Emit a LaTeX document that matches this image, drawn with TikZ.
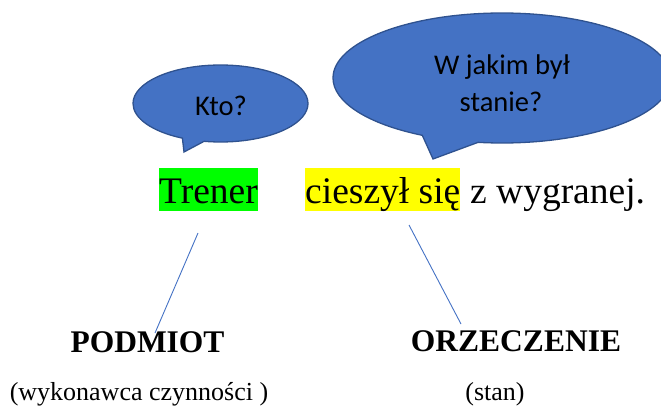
\documentclass[tikz,border=0pt]{standalone}
\usepackage{fontspec}
\setmainfont{Liberation Serif}
\newfontfamily\calibri{Carlito}
\usetikzlibrary{shapes.callouts}
\definecolor{bubblefill}{HTML}{4472C4}
\definecolor{bubbleline}{HTML}{2F528F}
\definecolor{hlgreen}{HTML}{00FF00}
\definecolor{hlyellow}{HTML}{FFFF00}
\begin{document}
\begin{tikzpicture}[x=1pt,y=-1pt,
  bubble/.style={ellipse callout, fill=bubblefill, draw=bubbleline, line width=1.3pt, inner sep=0pt},
  btext/.style={font=\calibri\fontsize{28.5}{34}\selectfont, inner sep=0pt, anchor=base},
  word/.style={font=\fontsize{37.5}{45}\selectfont, inner sep=0pt, text height=35pt, text depth=8pt, anchor=base west},
  label/.style={font=\bfseries\fontsize{31.5}{38}\selectfont, inner sep=0pt, anchor=base},
  note/.style={font=\fontsize{26}{31}\selectfont, inner sep=0pt, anchor=base},
  link/.style={draw=bubblefill, line width=0.9pt}]
\useasboundingbox (0,0) rectangle (661,407);
\clip (0,0) rectangle (661,407);
% bubbles
\node[bubble, minimum width=175pt, minimum height=77pt, callout absolute pointer={(184,152)}] (b1) at (220.5,103.5) {};
\node[btext] (kto) at (221,115) {Kto?};
\node[bubble, minimum width=338pt, minimum height=130pt, callout pointer arc=20, callout absolute pointer={(433,159)}] (b2) at (502,78) {};
\node[btext] (q1) at (502,74) {W jakim był};
\node[btext] (q2) at (501,111) {stanie?};
% sentence
\node[word, fill=hlgreen] (trener) at (159,203) {Trener};
\node[word, fill=hlyellow] (cz) at (305,203) {cieszył się};
\node[word] (rest) at ([xshift=9.4pt]cz.base east) {z wygranej.};
% labels
\node[label] (podmiot) at (147.5,352) {PODMIOT};
\node[label] (orzecz) at (516,351) {ORZECZENIE};
\node[note] (wyk) at (139,400) {(wykonawca czynności )};
\node[note] (stan) at (495,400) {(stan)};
% connectors
\coordinate (a1) at (198,233);
\coordinate (a2) at (155,333);
\coordinate (c1) at (409,225);
\coordinate (c2) at (461,324);
\draw[link] (a1) -- (a2);
\draw[link] (c1) -- (c2);
\end{tikzpicture}
\end{document}
